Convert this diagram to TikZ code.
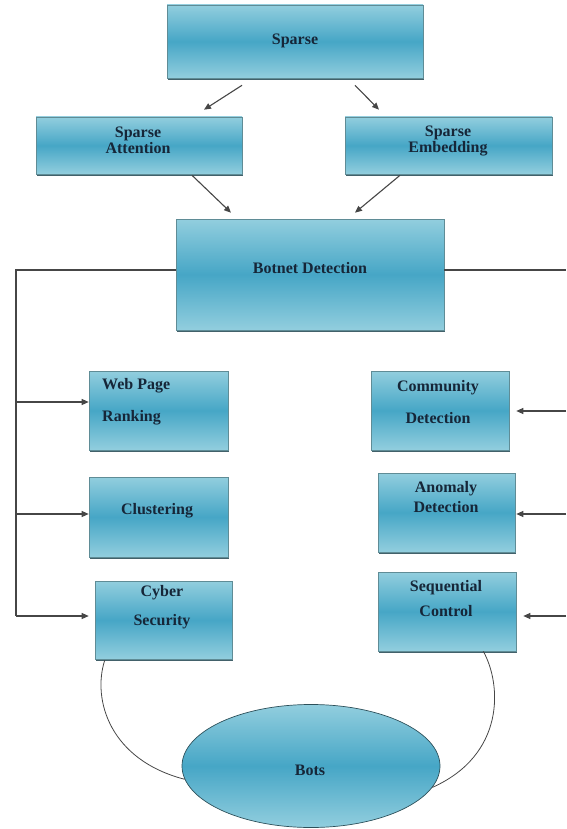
\documentclass[tikz,border=0pt]{standalone}
\usepackage{fontspec}
\setmainfont{Liberation Serif}
\usetikzlibrary{shapes.geometric,shadows,calc,arrows.meta}
\definecolor{cl}{RGB}{146,206,222}
\definecolor{cd}{RGB}{70,166,198}
\definecolor{bline}{RGB}{95,140,150}
\definecolor{shad}{RGB}{45,80,90}
\definecolor{txtc}{RGB}{22,38,56}
\definecolor{lnc}{RGB}{70,70,70}
\tikzset{
  box/.style={draw=bline, line width=0.6pt, top color=cl, bottom color=cl, middle color=cd,
    inner sep=0pt, drop shadow={shadow xshift=1.2pt, shadow yshift=-2pt, opacity=0.9, fill=shad}},
  ovalbox/.style={ellipse, draw=shad, line width=0.7pt, top color=cl, bottom color=cl, middle color=cd,
    inner sep=0pt, minimum width=258pt, minimum height=123pt},
  txt/.style={text=txtc, font=\fontsize{16}{16}\selectfont\bfseries, align=center, inner sep=0pt},
  ln/.style={draw=lnc, line width=1.1pt},
  arr/.style={ln, -{Triangle[length=7pt,width=6pt]}},
  curv/.style={draw=lnc, line width=0.8pt},
}
\begin{document}
\begin{tikzpicture}[x=1pt,y=-1pt]
\useasboundingbox (0,0) rectangle (566,829);
% boxes
\node[box, minimum width=256pt, minimum height=73pt] (sp) at (295,41.5) {};
\node[box, minimum width=206pt, minimum height=57pt] (spA) at (139,145.5) {};
\node[box, minimum width=207pt, minimum height=57pt] (spE) at (448.5,145.5) {};
\node[box, minimum width=268pt, minimum height=111pt] (bot) at (310,274.5) {};
\node[box, minimum width=139pt, minimum height=79pt] (web) at (158.5,410.5) {};
\node[box, minimum width=139pt, minimum height=80pt] (clu) at (158.5,517) {};
\node[box, minimum width=137pt, minimum height=78pt] (cyb) at (163.5,620) {};
\node[box, minimum width=138pt, minimum height=79pt] (com) at (440,410.5) {};
\node[box, minimum width=137pt, minimum height=79pt] (ano) at (446.5,512.5) {};
\node[box, minimum width=138pt, minimum height=79pt] (seq) at (447,611.5) {};
\node[ovalbox] (bots) at (311,766) {};
% texts
\node[txt] (tsp) at (295,41) {Sparse};
\node[txt] (tspA) at (138,140) {Sparse\\Attention};
\node[txt] (tspE) at (448,141) {Sparse\\Embedding};
\node[txt] (tbot) at (310,268) {Botnet Detection};
\node[txt, align=left, anchor=west] (tweb) at (102,402) {Web Page\\[16pt]Ranking};
\node[txt] (tcom) at (438,402) {Community\\[16pt]Detection};
\node[txt] (tclu) at (157,511) {Clustering};
\node[txt] (tano) at (446,497) {Anomaly\\[4pt]Detection};
\node[txt] (tcyb) at (162,607) {Cyber\\[13pt]Security};
\node[txt] (tseq) at (446,599) {Sequential\\[9pt]Control};
\node[txt] (tbots) at (310,770) {Bots};
% top arrows
\draw[arr] ($(sp.south)+(-53,7)$) -- ($(spA.north)+(65,-7)$);
\draw[arr] ($(sp.south)+(60,7)$) -- ($(spE.north)+(-69.5,-7)$);
\draw[arr] ($(spA.south)+(53,1)$) -- ($(bot.north)+(-79,-6)$);
\draw[arr] ($(spE.south)+(-48.5,1)$) -- ($(bot.north)+(45,-6)$);
% left branch
\coordinate (bL) at ($(bot.west)+(0,-4.5)$);
\coordinate (jL) at (16,270);
\coordinate (wA) at ($(web.west)+(0,-8.5)$);
\coordinate (cA) at ($(clu.west)+(0,-3)$);
\coordinate (yA) at ($(cyb.west)+(-6,-4)$);
\draw[ln] (bL) -- (jL) -- (jL |- yA);
\draw[arr] (jL |- wA) -- (wA);
\draw[arr] (jL |- cA) -- (cA);
\draw[arr] (jL |- yA) -- (yA);
% right branch
\coordinate (bR) at ($(bot.east)+(0,-4.5)$);
\coordinate (jR) at (566,270);
\coordinate (mA) at ($(com.east)+(7,0.5)$);
\coordinate (nA) at ($(ano.east)+(1,1.5)$);
\coordinate (sA) at ($(seq.east)+(7,4.5)$);
\draw[ln] (bR) -- (jR);
\draw[arr] (jR |- mA) -- (mA);
\draw[arr] (jR |- nA) -- (nA);
\draw[arr] (jR |- sA) -- (sA);
% curves to bots
\draw[curv] ($(cyb.south west)+(10,1)$) .. controls (92,700) and (110,760) .. (bots.186);
\draw[curv] ($(seq.south east)+(-33,0)$) .. controls (502,685) and (505,755) .. (bots.-10);
\end{tikzpicture}
\end{document}
